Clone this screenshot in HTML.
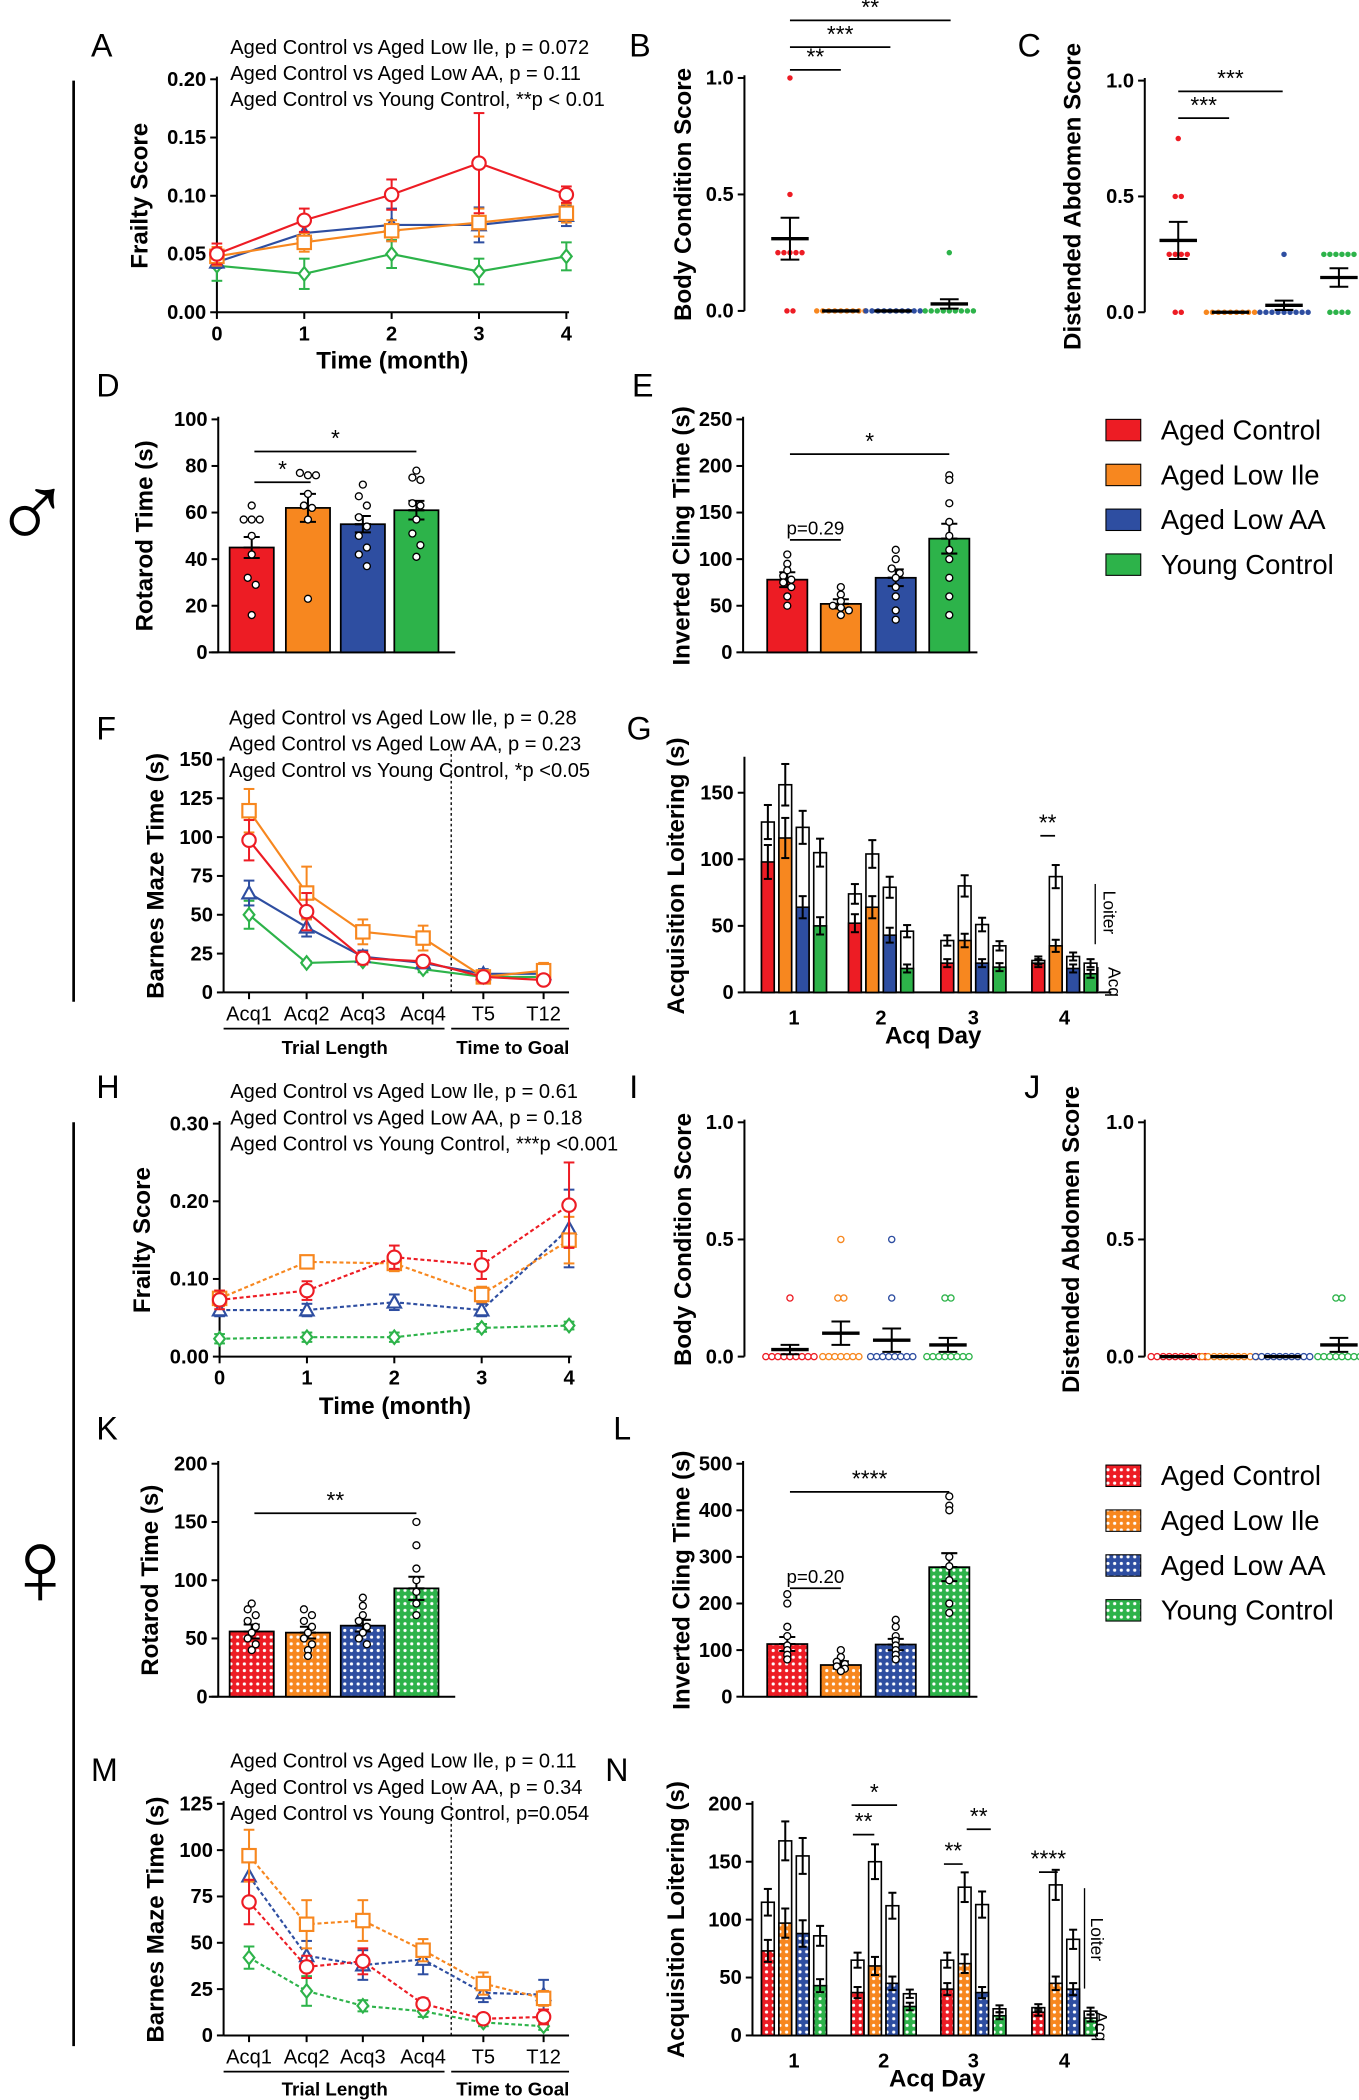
<!DOCTYPE html>
<html><head><meta charset="utf-8"><style>
html,body{margin:0;padding:0;background:#fff}
svg{display:block}
text{font-family:"Liberation Sans",Arial,sans-serif}
</style></head><body>
<svg id="fig" xmlns="http://www.w3.org/2000/svg" width="1359" height="2100" viewBox="0 0 1015 1568">
<defs>
<pattern id="pat0" width="5" height="5" patternUnits="userSpaceOnUse"><rect width="5" height="5" fill="#ed1c24"/><circle cx="2.5" cy="2.5" r="1.2" fill="#fff"/></pattern>
<pattern id="pat1" width="5" height="5" patternUnits="userSpaceOnUse"><rect width="5" height="5" fill="#f7871f"/><circle cx="2.5" cy="2.5" r="1.2" fill="#fff"/></pattern>
<pattern id="pat2" width="5" height="5" patternUnits="userSpaceOnUse"><rect width="5" height="5" fill="#2e4ea1"/><circle cx="2.5" cy="2.5" r="1.2" fill="#fff"/></pattern>
<pattern id="pat3" width="5" height="5" patternUnits="userSpaceOnUse"><rect width="5" height="5" fill="#2db34a"/><circle cx="2.5" cy="2.5" r="1.2" fill="#fff"/></pattern>
</defs>
</svg>
<script>
// ---------- DATA ----------
const groupNames=['Aged Control','Aged Low Ile','Aged Low AA','Young Control'];
const months=[0,1,2,3,4];
const frailTicks=[0,0.05,0.10,0.15,0.20];
const aRed=[0.050,0.079,0.101,0.128,0.101], aRedErr=[0.009,0.010,0.013,0.043,0.007];
const aOrange=[0.048,0.060,0.070,0.077,0.085], aOrangeErr=[0.008,0.008,0.009,0.012,0.008];
const aBlue=[0.043,0.068,0.075,0.075,0.083], aBlueErr=[0.005,0.008,0.014,0.015,0.009];
const aGreen=[0.040,0.033,0.050,0.035,0.048], aGreenErr=[0.013,0.013,0.012,0.011,0.012];
const scoreTicks=[0,0.5,1.0];
const bRedPts=[1.0,0.5,0.25,0.25,0.25,0.25,0.25,0,0], bOrangePts=[0,0,0,0,0,0,0,0,0], bBluePts=[0,0,0,0,0,0,0,0,0,0], bGreenPts=[0.25,0,0,0,0,0,0,0,0,0];
const bMeans=[0.31,0,0,0.03], bErr=[0.09,0,0,0.02];
const cRedPts=[0.75,0.5,0.5,0.25,0.25,0.25,0.25,0,0], cOrangePts=[0,0,0,0,0,0,0,0,0], cBluePts=[0.25,0,0,0,0,0,0,0,0,0], cGreenPts=[0.25,0.25,0.25,0.25,0.25,0.25,0,0,0,0];
const cMeans=[0.31,0,0.03,0.15], cErr=[0.08,0,0.02,0.04];
const rotTicks=[0,20,40,60,80,100];
const dMeans=[45,62,55,61], dErr=[4.5,6,3.5,4];
const dRedPts=[63,57,57,57,50,42,32,29,16], dOrangePts=[77,76,76,68,63,62,57,23], dBluePts=[72,67,63,58,54,50,45,42,37], dGreenPts=[78,75,74,64,63,57,51,46,41];
const clingTicks=[0,50,100,150,200,250];
const eMeans=[78,52,80,122], eErr=[8,5,9,16];
const eRedPts=[105,95,88,82,78,75,70,60,50], eOrangePts=[70,62,55,50,48,45,40], eBluePts=[110,100,90,85,80,70,60,45,35], eGreenPts=[190,185,160,140,125,110,100,80,60,40];
const mazeCats=['Acq1','Acq2','Acq3','Acq4','T5','T12'];
const mazeTicksF=[0,25,50,75,100,125,150];
const fRed=[98,52,22,20,10,8], fRedErr=[13,12,4,3,2,2];
const fOrange=[117,64,39,35,10,14], fOrangeErr=[14,17,8,8,3,5];
const fBlue=[64,42,23,19,12,12], fBlueErr=[8,6,4,3,3,3];
const fGreen=[50,19,20,15,10,10], fGreenErr=[9,1,2,2,2,2];
const days=['1','2','3','4'];
const loiterTicksG=[0,50,100,150];
const gAcqRed=[98,52,22,22], gTotRed=[128,74,39,24];
const gAcqOrange=[116,64,39,35], gTotOrange=[156,104,80,87];
const gAcqBlue=[64,43,22,18], gTotBlue=[124,79,51,27];
const gAcqGreen=[50,18,19,14], gTotGreen=[105,46,35,22];
const frailTicksH=[0,0.10,0.20,0.30];
const hRed=[0.073,0.085,0.128,0.118,0.195], hRedErr=[0.012,0.012,0.015,0.018,0.055];
const hOrange=[0.075,0.122,0.120,0.080,0.150], hOrangeErr=[0.010,0.008,0.010,0.010,0.030];
const hBlue=[0.060,0.060,0.070,0.060,0.165], hBlueErr=[0.008,0.008,0.010,0.008,0.050];
const hGreen=[0.023,0.025,0.025,0.037,0.040], hGreenErr=[0.006,0.006,0.006,0.005,0.005];
const iRedPts=[0.25,0,0,0,0,0,0,0,0,0], iOrangePts=[0.5,0.25,0.25,0,0,0,0,0,0,0], iBluePts=[0.5,0.25,0,0,0,0,0,0,0,0], iGreenPts=[0.25,0.25,0,0,0,0,0,0,0,0];
const iMeans=[0.03,0.1,0.07,0.05], iErr=[0.02,0.05,0.05,0.03];
const jRedPts=[0,0,0,0,0,0,0,0,0,0], jOrangePts=[0,0,0,0,0,0,0,0,0,0], jBluePts=[0,0,0,0,0,0,0,0,0,0], jGreenPts=[0.25,0.25,0,0,0,0,0,0,0,0];
const jMeans=[0,0,0,0.05], jErr=[0,0,0,0.03];
const rotTicksK=[0,50,100,150,200];
const kMeans=[56,55,61,93], kErr=[6,5,5,10];
const kRedPts=[80,75,70,65,60,55,50,45,40], kOrangePts=[75,70,65,60,55,50,45,40,35], kBluePts=[85,78,70,65,60,55,50,45], kGreenPts=[150,130,110,100,90,80,70];
const clingTicksL=[0,100,200,300,400,500];
const lMeans=[113,68,112,278], lErr=[15,8,12,30];
const lRedPts=[220,200,150,130,110,100,90,80], lOrangePts=[100,85,75,70,65,60,55], lBluePts=[165,150,130,120,110,100,90,80], lGreenPts=[430,410,400,300,280,250,200,180];
const mazeTicksM=[0,25,50,75,100,125];
const mRed=[72,37,40,17,9,10], mRedErr=[12,6,7,3,2,4];
const mOrange=[97,60,62,46,28,20], mOrangeErr=[14,13,11,6,6,4];
const mBlue=[86,43,38,41,23,22], mBlueErr=[12,8,8,8,5,8];
const mGreen=[42,24,16,13,7,5], mGreenErr=[6,8,3,3,2,2];
const loiterTicksN=[0,50,100,150,200];
const nAcqRed=[73,37,40,20], nTotRed=[115,65,65,24];
const nAcqOrange=[97,60,62,45], nTotOrange=[168,150,128,130];
const nAcqBlue=[88,45,37,40], nTotBlue=[155,112,113,83];
const nAcqGreen=[43,25,17,15], nTotGreen=[86,36,23,21];

// ---------- DRAWING ----------
const NS='http://www.w3.org/2000/svg';
const svg=document.getElementById('fig');
const COL=['#ed1c24','#f7871f','#2e4ea1','#2db34a'];
function mk(tag,at,parent){const e=document.createElementNS(NS,tag);for(const k in at)e.setAttribute(k,at[k]);(parent||svg).appendChild(e);return e;}
function txt(s,x,y,size,opts,name){
  const e=mk('text',Object.assign({x:x,y:y,'font-size':size},opts||{}));e.textContent=s;
  
  
  return e;}
function line(x1,y1,x2,y2,st,w,name,extra){const e=mk('line',Object.assign({x1:x1,y1:y1,x2:x2,y2:y2,stroke:st||'#000','stroke-width':w||1.5},extra||{}));
  
  
  return e;}
function yScale(yb,yt,max){return v=>yb-(v/max)*(yb-yt);}
function yAxis(x,yb,yt,ticks,max,fmt,title,tx,key){
  const sy=yScale(yb,yt,max);
  line(x,yb,x,yt-2,'#000',1.5,key+'-y-axis');
  ticks.forEach(t=>{line(x-5,sy(t),x,sy(t),'#000',1.5,key+'-y-tick');
    txt(fmt(t),x-8,sy(t)+5,15,{'text-anchor':'end','font-weight':'bold'},key+'-y-tick-label');});
  const ty=(yb+yt)/2;
  txt(title,tx,ty,18,{'text-anchor':'middle','font-weight':'bold',transform:'rotate(-90 '+tx+' '+ty+')'},key+'-y-axis-title');
  return sy;}
function panelLabel(s,x,y){txt(s,x,y,24,{},'panel-label-'+s.toLowerCase());}
function marker(kind,x,y,c,name){
  let e;
  if(kind===0)e=mk('circle',{cx:x,cy:y,r:5,fill:'#fff',stroke:c,'stroke-width':1.6});
  else if(kind===1)e=mk('rect',{x:x-5,y:y-5,width:10,height:10,fill:'#fff',stroke:c,'stroke-width':1.6});
  else if(kind===2)e=mk('polygon',{points:(x)+','+(y-5)+' '+(x+5)+','+(y+4)+' '+(x-5)+','+(y+4),fill:'#fff',stroke:c,'stroke-width':1.6});
  else e=mk('polygon',{points:x+','+(y-5)+' '+(x+4)+','+y+' '+x+','+(y+5)+' '+(x-4)+','+y,fill:'#fff',stroke:c,'stroke-width':1.6});
  
  
}
function errbar(x,y1,y2,c,w,name){
  line(x,y1,x,y2,c,1.5,name);line(x-w,y1,x+w,y1,c,1.5,name+'-cap');line(x-w,y2,x+w,y2,c,1.5,name+'-cap');}
function lineSeries(sx,sy,vals,errs,gi,dashed,key){
  const pts=vals.map((v,i)=>sx(i)+','+sy(v)).join(' ');
  const p=mk('polyline',{points:pts,fill:'none',stroke:COL[gi],'stroke-width':1.6,'stroke-dasharray':dashed?'3,2':'none'});
  
  
  vals.forEach((v,i)=>{errbar(sx(i),sy(v+errs[i]),sy(v-errs[i]),COL[gi],4,key+'-error-bar');});
  vals.forEach((v,i)=>marker(gi,sx(i),sy(v),COL[gi],key+'-point'));
}
function scatterPts(cx,sy,pts,gi,hollow,key){
  const counts={};pts.forEach(v=>counts[v]=(counts[v]||0)+1);
  const seen={};
  pts.forEach(v=>{const n=counts[v];const k=seen[v]=(seen[v]||0)+1;
    const x=cx+(k-1-(n-1)/2)*4.5;
    const e=mk('circle',{cx:x,cy:sy(v),r:hollow?2.3:1.8,fill:hollow?'#fff':COL[gi],stroke:COL[gi],'stroke-width':hollow?1:0.5});
    
    });
}
function meanSem(cx,sy,m,e,key){
  line(cx-14,sy(m),cx+14,sy(m),'#000',2.5,key+'-mean');
  if(e>0){line(cx,sy(m+e),cx,sy(m-e),'#000',1.5,key+'-sem');line(cx-7,sy(m+e),cx+7,sy(m+e),'#000',1.5,key+'-sem-cap');line(cx-7,sy(m-e),cx+7,sy(m-e),'#000',1.5,key+'-sem-cap');}
}
function sig(x1,x2,y,label,key){line(x1,y,x2,y,'#000',1.3,key+'-sig-line');txt(label,(x1+x2)/2,y-4,label.indexOf('p=')===0?14:17,{'text-anchor':'middle'},key+'-sig-label');}
function barPanel(cxs,w,sy,means,errs,ptsArr,female,key){
  means.forEach((m,i)=>{
    const r=mk('rect',{x:cxs[i]-w/2,y:sy(m),width:w,height:sy(0)-sy(m),fill:female?'url(#pat'+i+')':COL[i],stroke:'#000','stroke-width':1.3});
    
    
    errbar(cxs[i],sy(m+errs[i]),sy(m),'#000',6,key+'-error-bar');
    errbar(cxs[i],sy(m),sy(m-errs[i]),'#000',6,key+'-error-bar');
    const counts={};const seen={};ptsArr[i].forEach(v=>{const b=Math.round(v/8);counts[b]=(counts[b]||0)+1;});
    ptsArr[i].forEach(v=>{const b=Math.round(v/8);const n=counts[b];const k=seen[b]=(seen[b]||0)+1;
      const c=mk('circle',{cx:cxs[i]+(k-1-(n-1)/2)*6,cy:sy(v),r:2.6,fill:'#fff',stroke:'#000','stroke-width':1});
      
      });
  });
}
function stackPanel(centers,sy,acqs,tots,female,key){
  const w=9.5,gap=13;
  days.forEach((d,di)=>{
    for(let g=0;g<4;g++){
      const x=centers[di]+(g-1.5)*gap;
      const a=acqs[g][di],t=tots[g][di];
      const ro=mk('rect',{x:x-w/2,y:sy(t),width:w,height:sy(0)-sy(t),fill:'#fff',stroke:'#000','stroke-width':1.2});
      
      
      const ra=mk('rect',{x:x-w/2,y:sy(a),width:w,height:sy(0)-sy(a),fill:female?'url(#pat'+g+')':COL[g],stroke:'#000','stroke-width':1.2});
      
      
      const et=Math.max(3,t*0.1),ea=Math.max(3,a*0.13);
      errbar(x,sy(t+et),sy(t-et),'#000',3,key+'-error-bar');
      errbar(x,sy(a+ea),sy(a-ea),'#000',3,key+'-error-bar');
    }
    txt(d,centers[di],sy(0)+24,15,{'text-anchor':'middle','font-weight':'bold'},key+'-x-tick-label');
  });
}
function legend(y0,female,key){
  groupNames.forEach((n,i)=>{
    const r=mk('rect',{x:826,y:y0+i*33.5-8,width:26,height:16,fill:female?'url(#pat'+i+')':COL[i],stroke:'#000','stroke-width':0.8});
    
    
    txt(n,867,y0+i*33.5+7,20.5,{},key+'-entry-label');
  });
}
const fmt2=v=>v.toFixed(2), fmt1=v=>v.toFixed(1), fmt0=v=>String(v);

// ===== A =====
panelLabel('A',68,42);
['Aged Control vs Aged Low Ile, p = 0.072','Aged Control vs Aged Low AA, p = 0.11','Aged Control vs Young Control, **p < 0.01'].forEach((s,i)=>txt(s,172,40+i*19.5,15,{},'a-stats-text'));
let sy=yAxis(162,233,59,frailTicks,0.20,fmt2,'Frailty Score',110,'a');
let sx=i=>162+i*65.25;
line(162,233,425,233,'#000',1.5,'a-x-axis');
months.forEach((m,i)=>{line(sx(i),233,sx(i),238,'#000',1.5,'a-x-tick');txt(String(m),sx(i),254,15,{'text-anchor':'middle','font-weight':'bold'},'a-x-tick-label');});
txt('Time (month)',293,275,18,{'text-anchor':'middle','font-weight':'bold'},'a-x-axis-title');
lineSeries(sx,sy,aGreen,aGreenErr,3,false,'a');lineSeries(sx,sy,aBlue,aBlueErr,2,false,'a');lineSeries(sx,sy,aOrange,aOrangeErr,1,false,'a');lineSeries(sx,sy,aRed,aRedErr,0,false,'a');

// ===== B =====
panelLabel('B',470,42);
sy=yAxis(556,232,58,scoreTicks,1.0,fmt1,'Body Condition Score',516,'b');
[bRedPts,bOrangePts,bBluePts,bGreenPts].forEach((p,i)=>{const cx=[590,628,667,709][i];scatterPts(cx,sy,p,i,false,'b');meanSem(cx,sy,bMeans[i],bErr[i],'b');});
sig(590,628,52,'**','b');sig(590,665,35,'***','b');sig(590,710,15,'**','b');

// ===== C =====
panelLabel('C',760,42);
sy=yAxis(855,233,60,scoreTicks,1.0,fmt1,'Distended Abdomen Score',807,'c');
[cRedPts,cOrangePts,cBluePts,cGreenPts].forEach((p,i)=>{const cx=[880,919,959,1000][i];scatterPts(cx,sy,p,i,false,'c');meanSem(cx,sy,cMeans[i],cErr[i],'c');});
sig(880,918,88,'***','c');sig(880,958,68,'***','c');

// ===== D =====
panelLabel('D',72,296);
sy=yAxis(163,487,313,rotTicks,100,fmt0,'Rotarod Time (s)',114,'d');
line(156,487,340,487,'#000',1.5,'d-x-axis');
barPanel([188,230,271,311],33,sy,dMeans,dErr,[dRedPts,dOrangePts,dBluePts,dGreenPts],false,'d');
sig(190,232,360,'*','d');sig(190,311,337,'*','d');

// ===== E =====
panelLabel('E',472,296);
sy=yAxis(555,487,313,clingTicks,250,fmt0,'Inverted Cling Time (s)',515,'e');
line(555,487,730,487,'#000',1.5,'e-x-axis');
barPanel([588,628,669,709],30,sy,eMeans,eErr,[eRedPts,eOrangePts,eBluePts,eGreenPts],false,'e');
sig(590,628,403,'p=0.29','e');sig(590,709,339,'*','e');
legend(321,false,'legend-male');

// ===== F =====
panelLabel('F',72,552);
['Aged Control vs Aged Low Ile, p = 0.28','Aged Control vs Aged Low AA, p = 0.23','Aged Control vs Young Control, *p <0.05'].forEach((s,i)=>txt(s,171,541+i*19.5,15,{},'f-stats-text'));
sy=yAxis(167,741,567,mazeTicksF,150,fmt0,'Barnes Maze Time (s)',122,'f');
line(167,741,425,741,'#000',1.5,'f-x-axis');
let fx=[186,229,271,316,361,406];
sx=i=>fx[i];
mazeCats.forEach((c,i)=>{line(sx(i),741,sx(i),746,'#000',1.5,'f-x-tick');txt(c,sx(i),762,15,{'text-anchor':'middle'},'f-x-tick-label');});
line(337,741,337,560,'#000',1,'f-divider',{'stroke-dasharray':'2,2'});
line(167,768,332,768,'#000',1.3,'f-group-line');line(337,768,425,768,'#000',1.3,'f-group-line');
txt('Trial Length',250,787,14,{'text-anchor':'middle','font-weight':'bold'},'f-group-label');
txt('Time to Goal',383,787,14,{'text-anchor':'middle','font-weight':'bold'},'f-group-label');
lineSeries(sx,sy,fGreen,fGreenErr,3,false,'f');lineSeries(sx,sy,fBlue,fBlueErr,2,false,'f');lineSeries(sx,sy,fOrange,fOrangeErr,1,false,'f');lineSeries(sx,sy,fRed,fRedErr,0,false,'f');

// ===== G =====
panelLabel('G',468,552);
sy=yAxis(556,741,567,loiterTicksG,175,fmt0,'Acquisition Loitering (s)',511,'g');
line(556,741,830,741,'#000',1.5,'g-x-axis');
stackPanel([593,658,727,795],sy,[gAcqRed,gAcqOrange,gAcqBlue,gAcqGreen],[gTotRed,gTotOrange,gTotBlue,gTotGreen],false,'g');
txt('Acq Day',697,779,18,{'text-anchor':'middle','font-weight':'bold'},'g-x-axis-title');
sig(777,788,624,'**','g');
line(818,660,818,705,'#000',1,'g-loiter-bracket');txt('Loiter',824,665,13,{transform:'rotate(90 824 665)'},'g-loiter-label');
line(820,722,820,740,'#000',1,'g-acq-bracket');txt('Acq',828,722,13,{transform:'rotate(90 828 722)'},'g-acq-label');

// ===== H =====
panelLabel('H',72,820);
['Aged Control vs Aged Low Ile, p = 0.61','Aged Control vs Aged Low AA, p = 0.18','Aged Control vs Young Control, ***p <0.001'].forEach((s,i)=>txt(s,172,820+i*19.5,15,{},'h-stats-text'));
sy=yAxis(164,1013,839,frailTicksH,0.30,fmt2,'Frailty Score',112,'h');
sx=i=>164+i*65.25;
line(164,1013,427,1013,'#000',1.5,'h-x-axis');
months.forEach((m,i)=>{line(sx(i),1013,sx(i),1018,'#000',1.5,'h-x-tick');txt(String(m),sx(i),1034,15,{'text-anchor':'middle','font-weight':'bold'},'h-x-tick-label');});
txt('Time (month)',295,1056,18,{'text-anchor':'middle','font-weight':'bold'},'h-x-axis-title');
lineSeries(sx,sy,hGreen,hGreenErr,3,true,'h');lineSeries(sx,sy,hBlue,hBlueErr,2,true,'h');lineSeries(sx,sy,hOrange,hOrangeErr,1,true,'h');lineSeries(sx,sy,hRed,hRedErr,0,true,'h');

// ===== I =====
panelLabel('I',470,820);
sy=yAxis(556,1013,838,scoreTicks,1.0,fmt1,'Body Condition Score',516,'i');
[iRedPts,iOrangePts,iBluePts,iGreenPts].forEach((p,i)=>{const cx=[590,628,666,708][i];scatterPts(cx,sy,p,i,true,'i');meanSem(cx,sy,iMeans[i],iErr[i],'i');});

// ===== J =====
panelLabel('J',765,820);
sy=yAxis(855,1013,838,scoreTicks,1.0,fmt1,'Distended Abdomen Score',806,'j');
[jRedPts,jOrangePts,jBluePts,jGreenPts].forEach((p,i)=>{const cx=[880,918,958,1000][i];scatterPts(cx,sy,p,i,true,'j');meanSem(cx,sy,jMeans[i],jErr[i],'j');});

// ===== K =====
panelLabel('K',72,1075);
sy=yAxis(163,1267,1093,rotTicksK,200,fmt0,'Rotarod Time (s)',118,'k');
line(156,1267,340,1267,'#000',1.5,'k-x-axis');
barPanel([188,230,271,311],33,sy,kMeans,kErr,[kRedPts,kOrangePts,kBluePts,kGreenPts],true,'k');
sig(190,311,1130,'**','k');

// ===== L =====
panelLabel('L',458,1075);
sy=yAxis(555,1267,1093,clingTicksL,500,fmt0,'Inverted Cling Time (s)',515,'l');
line(555,1267,730,1267,'#000',1.5,'l-x-axis');
barPanel([588,628,669,709],30,sy,lMeans,lErr,[lRedPts,lOrangePts,lBluePts,lGreenPts],true,'l');
sig(590,628,1186,'p=0.20','l');sig(590,709,1114,'****','l');
legend(1102,true,'legend-female');

// ===== M =====
panelLabel('M',68,1330);
['Aged Control vs Aged Low Ile, p = 0.11','Aged Control vs Aged Low AA, p = 0.34','Aged Control vs Young Control, p=0.054'].forEach((s,i)=>txt(s,172,1320+i*19.5,15,{},'m-stats-text'));
sy=yAxis(167,1520,1347,mazeTicksM,125,fmt0,'Barnes Maze Time (s)',122,'m');
line(167,1520,425,1520,'#000',1.5,'m-x-axis');
sx=i=>fx[i];
mazeCats.forEach((c,i)=>{line(sx(i),1520,sx(i),1525,'#000',1.5,'m-x-tick');txt(c,sx(i),1541,15,{'text-anchor':'middle'},'m-x-tick-label');});
line(337,1520,337,1340,'#000',1,'m-divider',{'stroke-dasharray':'2,2'});
line(167,1547,332,1547,'#000',1.3,'m-group-line');line(337,1547,425,1547,'#000',1.3,'m-group-line');
txt('Trial Length',250,1565,14,{'text-anchor':'middle','font-weight':'bold'},'m-group-label');
txt('Time to Goal',383,1565,14,{'text-anchor':'middle','font-weight':'bold'},'m-group-label');
lineSeries(sx,sy,mGreen,mGreenErr,3,true,'m');lineSeries(sx,sy,mBlue,mBlueErr,2,true,'m');lineSeries(sx,sy,mOrange,mOrangeErr,1,true,'m');lineSeries(sx,sy,mRed,mRedErr,0,true,'m');

// ===== N =====
panelLabel('N',452,1330);
sy=yAxis(562,1520,1347,loiterTicksN,200,fmt0,'Acquisition Loitering (s)',511,'n');
line(562,1520,820,1520,'#000',1.5,'n-x-axis');
stackPanel([593,660,727,795],sy,[nAcqRed,nAcqOrange,nAcqBlue,nAcqGreen],[nTotRed,nTotOrange,nTotBlue,nTotGreen],true,'n');
txt('Acq Day',700,1558,18,{'text-anchor':'middle','font-weight':'bold'},'n-x-axis-title');
sig(637,653,1370,'**','n');sig(636,670,1348,'*','n');sig(705,719,1392,'**','n');sig(722,740,1366,'**','n');sig(776,790,1398,'****','n');
line(810,1410,810,1485,'#000',1,'n-loiter-bracket');txt('Loiter',815,1432,13,{transform:'rotate(90 815 1432)'},'n-loiter-label');
line(810,1505,810,1520,'#000',1,'n-acq-bracket');txt('Acq',818,1502,13,{transform:'rotate(90 818 1502)'},'n-acq-label');

// ===== sex markers =====
line(55,60,55,748,'#000',2,'male-section-line');
line(55,838,55,1528,'#000',2,'female-section-line');
txt('♂',-6,410,80,{},'male-symbol');
txt('♀',0,1198,80,{},'female-symbol');
</script>
</body></html>
